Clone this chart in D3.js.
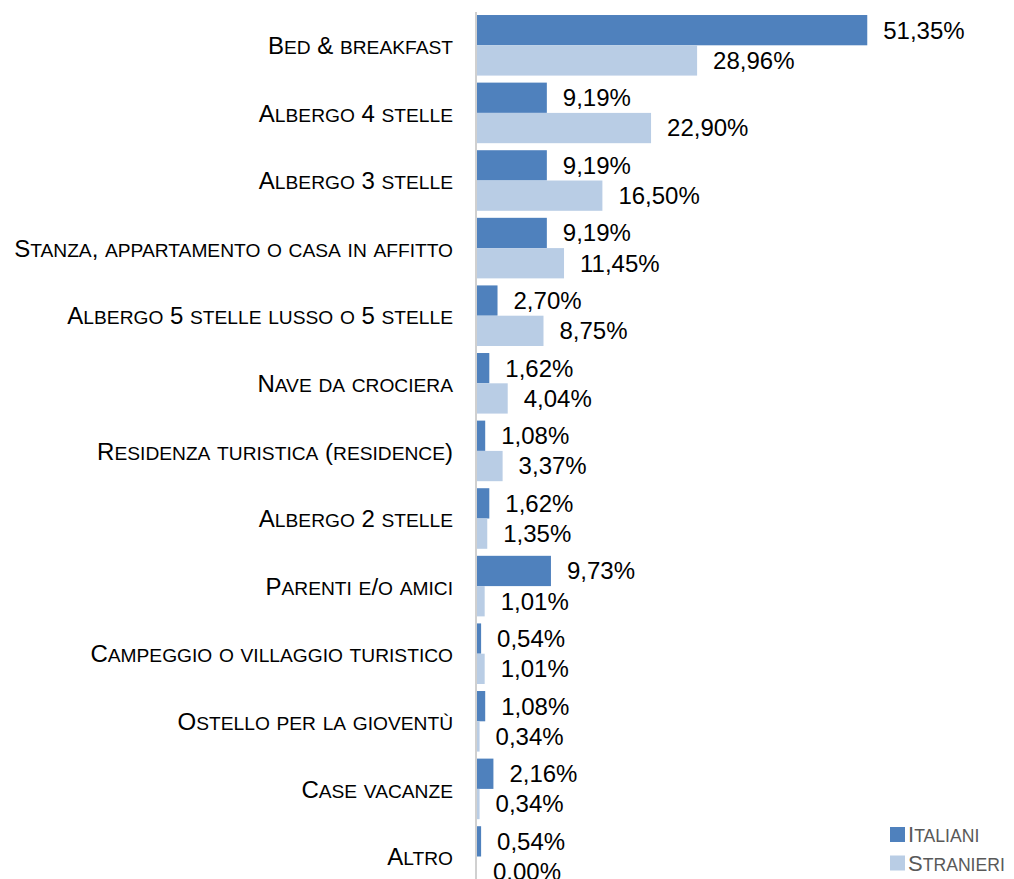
<!DOCTYPE html>
<html>
<head>
<meta charset="utf-8">
<script src="https://cdn.jsdelivr.net/npm/d3@7/dist/d3.min.js"></script>
<style>
  html, body { margin: 0; padding: 0; background: #fff; }
  svg { display: block; }
  text { font-family: "Liberation Sans", Arial, sans-serif; }
  .cat { fill: #000; font-size: 24px; }
  .val { font-size: 24px; fill: #000; }
  .leg { fill: #595959; font-size: 22px; }
  .sc { text-transform: uppercase; }
</style>
</head>
<body>
<svg id="chart" width="1014" height="879"></svg>
<script>
// Tipologia di alloggio, quote percentuali per provenienza
const categories = [
  "Bed & breakfast",
  "Albergo 4 stelle",
  "Albergo 3 stelle",
  "Stanza, appartamento o casa in affitto",
  "Albergo 5 stelle lusso o 5 stelle",
  "Nave da crociera",
  "Residenza turistica (residence)",
  "Albergo 2 stelle",
  "Parenti e/o amici",
  "Campeggio o villaggio turistico",
  "Ostello per la gioventù",
  "Case vacanze",
  "Altro"
];
const seriesNames = ["Italiani", "Stranieri"];
const italiani  = [51.35, 9.19, 9.19, 9.19, 2.70, 1.62, 1.08, 1.62, 9.73, 0.54, 1.08, 2.16, 0.54];
const stranieri = [28.96, 22.90, 16.50, 11.45, 8.75, 4.04, 3.37, 1.35, 1.01, 1.01, 0.34, 0.34, 0.00];
const colors = ["#4f81bd", "#b9cde5"];

const rows = categories.map((c, i) => ({ cat: c, values: [italiani[i], stranieri[i]] }));

const svg = d3.select("#chart");

const x = d3.scaleLinear().domain([0, 60]).range([477, 933]);
const y = d3.scaleBand().domain(categories).range([11.5, 890.3]).paddingInner(0.104).paddingOuter(0.052);
const ySub = d3.scaleBand().domain(seriesNames).range([0, y.bandwidth()]);
const color = d3.scaleOrdinal().domain(seriesNames).range(colors);
const fmt = v => d3.format(".2f")(v).replace(".", ",") + "%";

// Small caps: lowercase letters drawn as reduced capitals, everything else full size
function smallCaps(sel, size) {
  sel.each(function () {
    const t = d3.select(this);
    const str = t.text();
    t.text(null);
    const runs = str.match(/(\p{Ll}+|[^\p{Ll}]+)/gu) || [];
    runs.forEach(r => {
      const lower = /\p{Ll}/u.test(r);
      t.append("tspan")
        .attr("class", lower ? "sc" : null)
        .attr("font-size", lower ? size * 0.8 : size)
        .text(r);
    });
  });
}

// bars and value labels
const groups = svg.append("g").selectAll("g")
  .data(rows).join("g")
  .attr("transform", d => `translate(0,${y(d.cat)})`);

groups.selectAll("rect")
  .data(d => d.values.map((v, j) => ({ name: seriesNames[j], v })))
  .join("rect")
  .attr("x", x(0))
  .attr("y", d => ySub(d.name))
  .attr("width", d => x(d.v) - x(0))
  .attr("height", ySub.bandwidth())
  .attr("fill", d => color(d.name));

groups.selectAll("text.val")
  .data(d => d.values.map((v, j) => ({ name: seriesNames[j], v })))
  .join("text")
  .attr("class", "val")
  .attr("x", d => x(d.v) + 16)
  .attr("y", d => ySub(d.name) + ySub.bandwidth() / 2)
  .attr("dy", "0.35em")
  .text(d => fmt(d.v));

// category axis
const axis = d3.axisLeft(y).tickSize(0).tickPadding(23);
const gAxis = svg.append("g").attr("transform", `translate(${x(0) - 1},0)`).call(axis);
gAxis.select(".domain").remove();
gAxis.selectAll(".tick text")
  .attr("class", "cat")
  .attr("font-family", null)
  .attr("font-size", null)
  .attr("fill", null)
  .attr("dy", "0.36em")
  .call(smallCaps, 24);

svg.append("line")
  .attr("x1", x(0) - 1).attr("x2", x(0) - 1)
  .attr("y1", 12).attr("y2", 879)
  .attr("stroke", "#d0d0d0").attr("stroke-width", 2);

// legend
const legend = svg.append("g").attr("transform", "translate(890,827)");
const li = legend.selectAll("g").data(seriesNames).join("g")
  .attr("transform", (d, i) => `translate(0,${i * 28.5})`);
li.append("rect").attr("width", 15).attr("height", 15).attr("fill", d => color(d));
li.append("text").attr("class", "leg").attr("x", 18).attr("y", 7.5).attr("dy", "0.36em")
  .text(d => d)
  .call(smallCaps, 22);
</script>
</body>
</html>
